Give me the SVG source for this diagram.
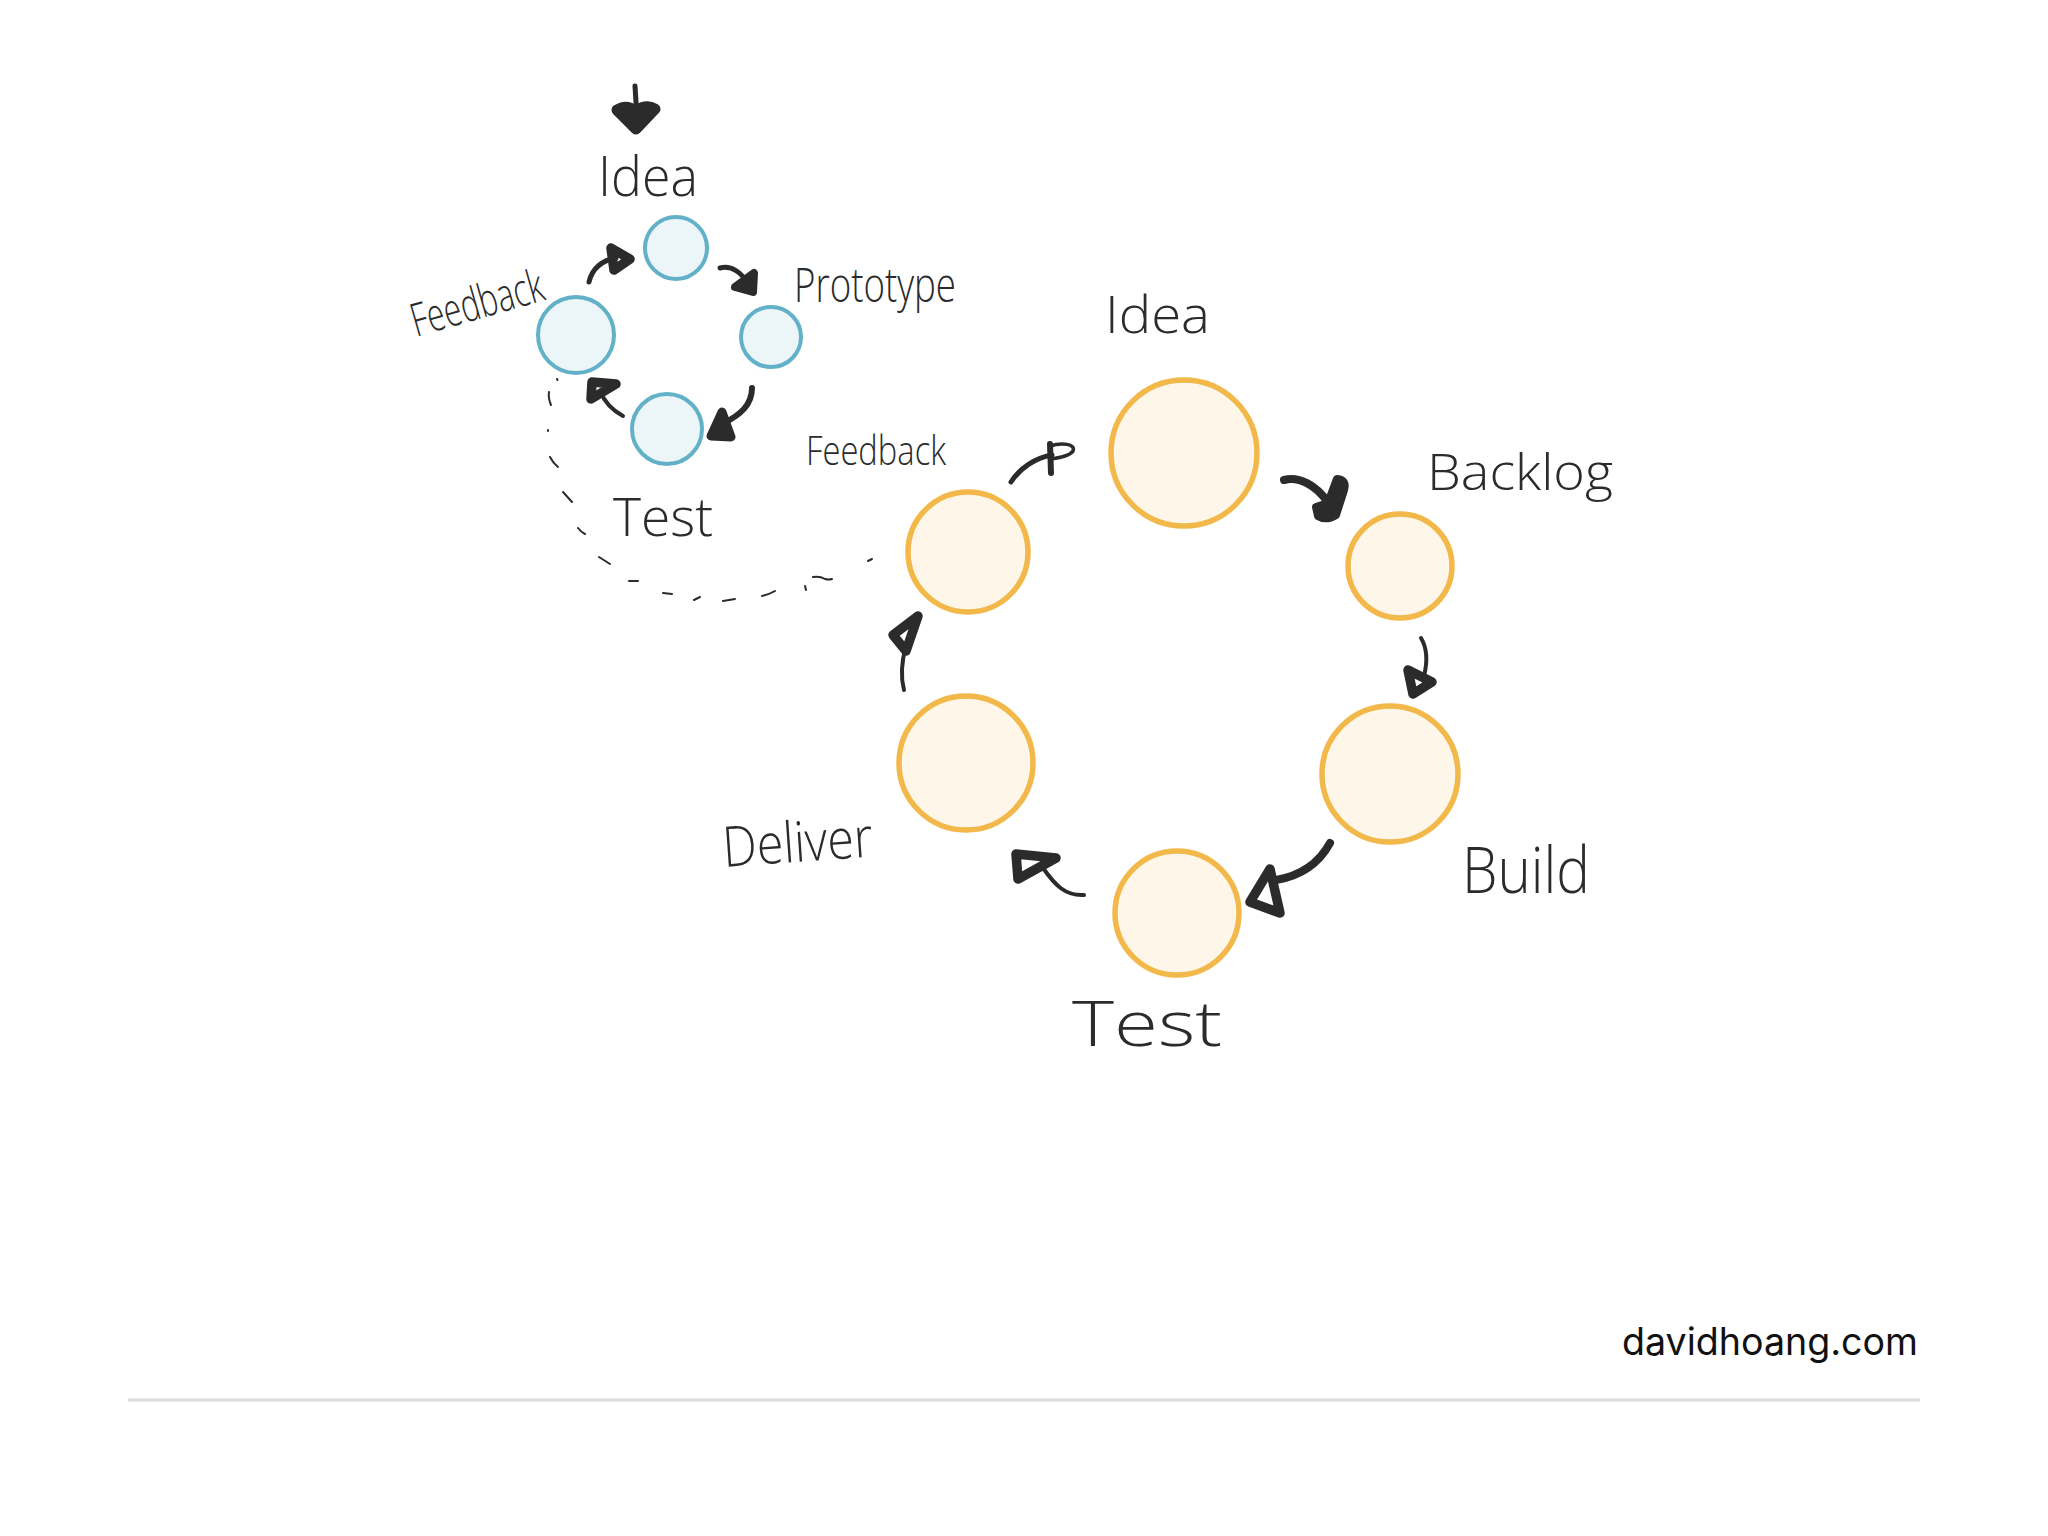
<svg xmlns="http://www.w3.org/2000/svg" width="2048" height="1536" viewBox="0 0 2048 1536">
<style>
.blue{fill:#ecf6f9;stroke:#62b1c9;stroke-width:4}
.orange{fill:#fdf6e9;stroke:#f3b84a;stroke-width:5.5}
.lbl{font-family:"Open Sans","DejaVu Sans",sans-serif;font-weight:300;fill:#2b2b2b}
.ln{fill:none;stroke:#2b2b2b;stroke-linecap:round;stroke-linejoin:round}
.hd{fill:#2b2b2b;stroke:#2b2b2b;stroke-linejoin:round;stroke-linecap:round}
.oh{fill:none;stroke:#2b2b2b;stroke-linejoin:round;stroke-linecap:round;stroke-width:9.5}
.dash{fill:none;stroke:#2b2b2b;stroke-width:2;stroke-linecap:round}
</style>
<rect width="2048" height="1536" fill="#ffffff"/>

<g id="small-idea"><circle class="blue" cx="676" cy="248" r="31"/><text class="lbl" x="598" y="196" font-size="56" textLength="100" lengthAdjust="spacingAndGlyphs">Idea</text></g>
<g id="small-prototype"><circle class="blue" cx="771" cy="337" r="30"/><text class="lbl" x="794" y="302" font-size="48" textLength="162" lengthAdjust="spacingAndGlyphs">Prototype</text></g>
<g id="small-feedback"><circle class="blue" cx="576" cy="335" r="38"/><text class="lbl" transform="translate(416,337) rotate(-16)" x="0" y="0" font-size="46" textLength="136" lengthAdjust="spacingAndGlyphs">Feedback</text></g>
<g id="small-test"><circle class="blue" cx="667" cy="429" r="35"/><text class="lbl" x="613" y="536" font-size="54" textLength="100" lengthAdjust="spacingAndGlyphs">Test</text></g>

<g id="big-idea"><circle class="orange" cx="1184" cy="453" r="73"/><text class="lbl" x="1105" y="333" font-size="52" textLength="105" lengthAdjust="spacingAndGlyphs">Idea</text></g>
<g id="big-backlog"><circle class="orange" cx="1400" cy="566" r="52"/><text class="lbl" x="1427" y="490" font-size="50" textLength="186" lengthAdjust="spacingAndGlyphs">Backlog</text></g>
<g id="big-build"><circle class="orange" cx="1390" cy="774" r="68"/><text class="lbl" x="1462" y="893" font-size="64" textLength="128" lengthAdjust="spacingAndGlyphs">Build</text></g>
<g id="big-test"><circle class="orange" cx="1177" cy="913" r="62"/><text class="lbl" x="1072" y="1046" font-size="62" textLength="150" lengthAdjust="spacingAndGlyphs">Test</text></g>
<g id="big-deliver"><circle class="orange" cx="966" cy="763" r="67"/><text class="lbl" transform="translate(724,867) rotate(-4)" x="0" y="0" font-size="56" textLength="150" lengthAdjust="spacingAndGlyphs">Deliver</text></g>
<g id="big-feedback"><circle class="orange" cx="968" cy="552" r="60"/><text class="lbl" x="806" y="465" font-size="40" textLength="140" lengthAdjust="spacingAndGlyphs">Feedback</text></g>

<g id="connectors">
<!-- entry arrow to small Idea -->
<path class="ln" d="M635,86 L637,118" stroke-width="5"/>
<path class="hd" stroke-width="11" d="M617,110 Q626,104 636,111 Q646,104 655,109 L636,129 Z"/>
<!-- small cycle -->
<path class="ln" d="M589,282 C592,268 603,260 616,258" stroke-width="5"/>
<path class="oh" d="M611,248 L630,259 L614,270 Z"/>
<path class="ln" d="M720,268 C732,265 742,273 748,284" stroke-width="5"/>
<path class="hd" stroke-width="8" d="M754,273 L753,292 L735,287 Z"/>
<path class="ln" d="M752,388 C752,405 740,415 724,423" stroke-width="6"/>
<path class="hd" stroke-width="9" d="M722,412 L711,436 L731,437 Z"/>
<path class="ln" d="M623,416 C612,410 604,401 600,391" stroke-width="4"/>
<path class="oh" d="M592,382 L616,384 L591,399 Z"/>
<!-- dashed return loop -->
<path class="dash" d="M557,379 l0.5,1"/>
<path class="dash" d="M549,392 Q548,398 551,405"/>
<path class="dash" d="M548,430 l0,1"/>
<path class="dash" d="M550,457 Q553,463 558,467"/>
<path class="dash" d="M563,492 L572,502"/>
<path class="dash" d="M578,528 Q581,532 585,534"/>
<path class="dash" d="M599,557 L610,564"/>
<path class="dash" d="M629,581 L638,581"/>
<path class="dash" d="M663,593 L672,594"/>
<path class="dash" d="M694,600 L700,597"/>
<path class="dash" d="M723,601 L735,599"/>
<path class="dash" d="M762,596 Q770,594 775,591"/>
<path class="dash" d="M805,586 L806,590"/>
<path class="dash" d="M813,577 Q820,576 825,579 Q829,580 832,579"/>
<path class="dash" d="M868,561 L872,559"/>
<!-- big cycle -->
<path class="ln" d="M1011,482 C1020,468 1035,458 1052,455" stroke-width="5"/>
<path class="ln" d="M1050,444 L1051,473" stroke-width="6"/>
<path class="ln" d="M1050,446 C1062,442 1076,444 1073,451 C1070,456 1058,458 1051,459" stroke-width="3.5"/>
<path class="ln" d="M1284,480 C1300,476 1316,486 1327,501" stroke-width="8"/>
<path class="hd" stroke-width="8" d="M1337,479 Q1347,480 1344,490 L1336,515 Q1326,521 1318,516 L1316,507 L1328,503 Z"/>
<path class="ln" d="M1421,638 C1427,648 1428,660 1424,676" stroke-width="4"/>
<path class="oh" d="M1408,670 L1432,682 L1413,694 Z"/>
<path class="ln" d="M1330,843 C1318,865 1300,876 1276,880" stroke-width="8"/>
<path class="oh" d="M1270,869 L1250,902 L1280,913 Z"/>
<path class="ln" d="M1084,895 C1065,896 1055,885 1043,868" stroke-width="4"/>
<path class="oh" d="M1016,854 L1056,858 L1018,879 Z"/>
<path class="ln" d="M904,690 C900,675 902,660 906,646" stroke-width="4"/>
<path class="oh" d="M918,616 L893,635 L906,651 Z"/>
</g>

<text x="1622" y="1355" font-family="Inter,'DejaVu Sans',sans-serif" font-weight="400" font-size="38" fill="#111111" textLength="296" lengthAdjust="spacingAndGlyphs">davidhoang.com</text>
<line x1="128" y1="1400" x2="1920" y2="1400" stroke="#dcdcdc" stroke-width="3"/>
</svg>
